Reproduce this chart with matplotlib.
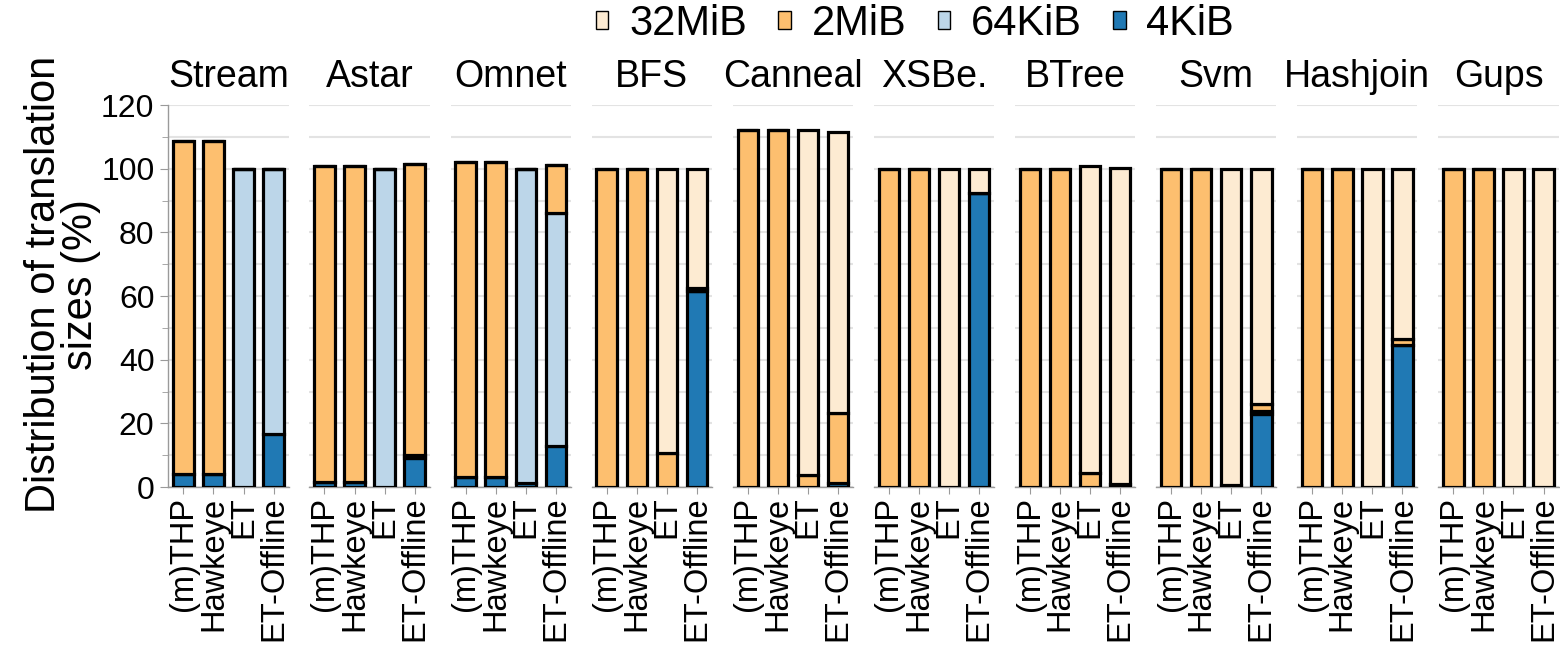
import matplotlib
matplotlib.use("Agg")
import matplotlib.pyplot as plt
from matplotlib.patches import Patch
from matplotlib.ticker import MultipleLocator
import numpy as np

plt.rcParams['font.family'] = ['Liberation Sans', 'DejaVu Sans']

benchmarks = ["Stream", "Astar", "Omnet", "BFS", "Canneal", "XSBe.",
              "BTree", "Svm", "Hashjoin", "Gups"]
systems = ["(m)THP", "Hawkeye", "ET", "ET-Offline"]
sizes = ["4KiB", "64KiB", "2MiB", "32MiB"]

# Share of translations per size, one row per benchmark, one column per system
kib4 = [
    [4.0, 4.0, 0.0, 16.5],   # Stream
    [1.5, 1.5, 0.0, 9.0],    # Astar
    [3.0, 3.0, 1.3, 13.0],   # Omnet
    [0.0, 0.0, 0.0, 61.5],   # BFS
    [0.0, 0.0, 0.0, 1.2],    # Canneal
    [0.0, 0.0, 0.0, 92.3],   # XSBe.
    [0.0, 0.0, 0.0, 0.8],    # BTree
    [0.0, 0.0, 0.5, 23.0],   # Svm
    [0.0, 0.0, 0.0, 44.5],   # Hashjoin
    [0.0, 0.0, 0.0, 0.0],    # Gups
]
kib64 = [
    [0.0, 0.0, 100.0, 83.5],
    [0.0, 0.0, 100.0, 1.0],
    [0.0, 0.0, 98.7, 73.0],
    [0.0, 0.0, 0.0, 0.0],
    [0.0, 0.0, 0.0, 0.0],
    [0.0, 0.0, 0.0, 0.0],
    [0.0, 0.0, 0.0, 0.0],
    [0.0, 0.0, 0.0, 1.0],
    [0.0, 0.0, 0.0, 0.0],
    [0.0, 0.0, 0.0, 0.0],
]
mib2 = [
    [104.6, 104.6, 0.0, 0.0],
    [99.3, 99.3, 0.0, 91.5],
    [99.0, 99.0, 0.0, 15.2],
    [100.0, 100.0, 10.6, 1.0],
    [112.0, 112.0, 3.8, 22.0],
    [100.0, 100.0, 0.0, 0.0],
    [100.0, 100.0, 4.3, 0.0],
    [100.0, 100.0, 0.0, 2.0],
    [100.0, 100.0, 0.0, 2.0],
    [100.0, 100.0, 0.0, 0.0],
]
mib32 = [
    [0.0, 0.0, 0.0, 0.0],
    [0.0, 0.0, 0.0, 0.0],
    [0.0, 0.0, 0.0, 0.0],
    [0.0, 0.0, 89.4, 37.5],
    [0.0, 0.0, 108.4, 88.2],
    [0.0, 0.0, 100.0, 7.7],
    [0.0, 0.0, 96.6, 99.5],
    [0.0, 0.0, 99.5, 74.0],
    [0.0, 0.0, 100.0, 53.5],
    [0.0, 0.0, 100.0, 100.0],
]

colors = {"4KiB": "#2079b4", "64KiB": "#bcd6e9", "2MiB": "#fdbf6f", "32MiB": "#fdebd2"}
series = {"4KiB": kib4, "64KiB": kib64, "2MiB": mib2, "32MiB": mib32}

fig, axes = plt.subplots(1, len(benchmarks), figsize=(15.6, 6.49), dpi=100, sharey=True)
fig.subplots_adjust(left=0.1079, right=0.9991, bottom=0.2496, top=0.8382, wspace=0.173)

grid_c = "#e3e3e3"
spine_c = "#9a9a9a"
x = np.arange(len(systems))

for i, (ax, name) in enumerate(zip(axes, benchmarks)):
    bottom = np.zeros(len(systems))
    for s in sizes:
        vals = np.array(series[s][i])
        ax.bar(x, vals, bottom=bottom, width=0.68, color=colors[s],
               edgecolor="black", linewidth=2.3, zorder=3)
        bottom += vals
    ax.set_xlim(-0.5, 3.5)
    ax.set_ylim(0, 120)
    ax.yaxis.set_major_locator(MultipleLocator(20))
    ax.yaxis.set_minor_locator(MultipleLocator(10))
    ax.grid(axis="y", which="both", color=grid_c, linewidth=1.5, zorder=0)
    ax.set_axisbelow(True)
    ax.set_xticks(x)
    ax.set_xticklabels(systems, rotation=90, fontsize=23.5)
    ax.tick_params(axis="x", length=5, color=spine_c, pad=2)
    ax.set_title(name, fontsize=27, pad=13)
    for side in ("top", "right"):
        ax.spines[side].set_visible(False)
    ax.spines["bottom"].set_color(spine_c)
    ax.spines["bottom"].set_linewidth(1.0)
    if i == 0:
        ax.spines["left"].set_color(spine_c)
        ax.spines["left"].set_linewidth(1.0)
        ax.tick_params(axis="y", which="major", labelsize=23, length=6, color=spine_c, pad=4)
        ax.tick_params(axis="y", which="minor", length=4, color=spine_c)
        ax.set_ylabel("Distribution of translation\nsizes (%)", fontsize=30,
                      linespacing=0.9)
        ax.yaxis.set_label_coords(-0.56, 0.53)
    else:
        ax.spines["left"].set_visible(False)
        ax.tick_params(axis="y", which="both", left=False, labelleft=False)

handles = [Patch(facecolor=colors[s], edgecolor="black", linewidth=1.0, label=s)
           for s in ["32MiB", "2MiB", "64KiB", "4KiB"]]
fig.legend(handles=handles, loc="center", bbox_to_anchor=(0.5865, 0.963), ncol=4,
           frameon=False, fontsize=30, handlelength=0.3, handleheight=0.3,
           handletextpad=0.5, columnspacing=0.75, borderaxespad=0)

fig.savefig("out.png", dpi=100)
